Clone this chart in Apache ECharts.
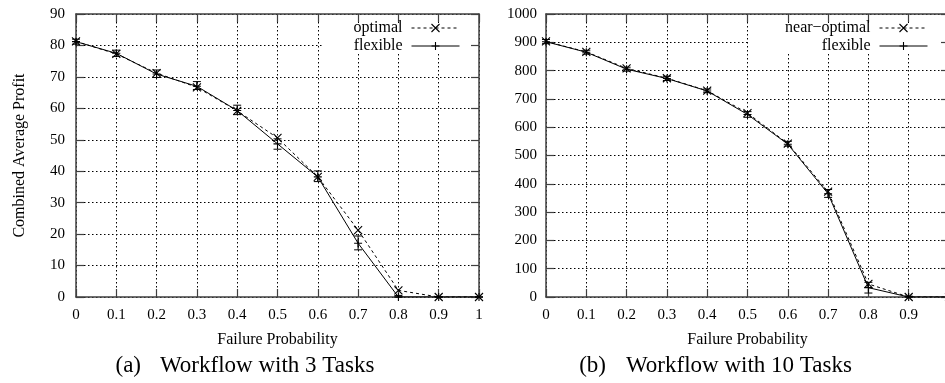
<!DOCTYPE html>
<html><head><meta charset="utf-8">
<script src="https://cdn.jsdelivr.net/npm/echarts@6/dist/echarts.min.js"></script>
<style>html,body{margin:0;padding:0;background:#fff}#c{width:945px;height:383px}</style>
</head><body><div id="c"></div>
<script>
// ---- data ----
const failureProb = [0, 0.1, 0.2, 0.3, 0.4, 0.5, 0.6, 0.7, 0.8, 0.9, 1.0];
const xTickLabels = ['0', '0.1', '0.2', '0.3', '0.4', '0.5', '0.6', '0.7', '0.8', '0.9', '1'];

// (a) Workflow with 3 Tasks
const optimal3 = [81.3, 77.3, 71.2, 66.7, 59.2, 50.6, 38.2, 21.3, 2.1, 0, 0];
const flexible3 = [81.2, 77.5, 70.9, 67.0, 59.3, 48.7, 38.2, 17.1, 0, 0, 0];
const flexible3Low = [80.4, 76.5, 69.8, 66.0, 58.0, 47.0, 36.7, 15.0, 0, 0, 0];
const flexible3High = [82.0, 78.5, 72.2, 68.5, 61.0, 50.3, 40.1, 19.4, 0.5, 0, 0];

// (b) Workflow with 10 Tasks
const nearOptimal10 = [903, 866, 808, 773, 729, 650, 542, 372, 46, 0, 0];
const flexible10 = [902, 865, 805, 772, 728, 645, 540, 365, 33, 0, 0];
const flexible10Low = [895, 858, 798, 765, 722, 635, 533, 352, 14, 0, 0];
const flexible10High = [910, 872, 812, 780, 735, 655, 550, 380, 52, 3, 0];

const yTicks3 = {min: 0, max: 90, interval: 10};
const yTicks10 = {min: 0, max: 1000, interval: 100};

// ---- chart ----
const FONT = 'Liberation Serif';
const AX = '#404040';
const X_PATH = 'path://M0,0L10,10M10,0L0,10';
const PLUS_PATH = 'path://M5,0L5,10M0,5L10,5';

function pairs(xs, ys) { return xs.map((x, i) => [x, ys[i]]); }
function triples(xs, lo, hi) { return xs.map((x, i) => [x, lo[i], hi[i]]); }

function errorBars(params, api) {
  const x = api.value(0), lo = api.value(1), hi = api.value(2);
  const p1 = api.coord([x, lo]), p2 = api.coord([x, hi]);
  const w = 4;
  const st = {stroke: '#000', lineWidth: 1};
  return {type: 'group', children: [
    {type: 'line', shape: {x1: p1[0], y1: p1[1], x2: p2[0], y2: p2[1]}, style: st},
    {type: 'line', shape: {x1: p1[0] - w, y1: p1[1], x2: p1[0] + w, y2: p1[1]}, style: st},
    {type: 'line', shape: {x1: p2[0] - w, y1: p2[1], x2: p2[0] + w, y2: p2[1]}, style: st}
  ]};
}

const grids = [
  {left: 76, top: 14, width: 403, height: 283, outerBoundsMode: 'none', containLabel: false},
  {left: 546, top: 14, width: 403, height: 283, outerBoundsMode: 'none', containLabel: false}
];

function xAxes(gi) {
  const common = {gridIndex: gi, type: 'value', min: 0, max: 1, interval: 0.1,
    axisLine: {show: true, onZero: false, lineStyle: {color: AX, width: 1.5}},
    axisTick: {show: true, inside: true, length: 8, lineStyle: {color: AX, width: 1.2}}};
  return [
    Object.assign({}, common, {position: 'bottom',
      axisLabel: {margin: 11, color: '#000', fontFamily: FONT, fontSize: 15,
        formatter: v => xTickLabels[Math.round(v * 10)]},
      splitLine: {show: true, lineStyle: {type: [1.5, 2.5], color: '#000', width: 1}},
      name: 'Failure Probability', nameLocation: 'middle', nameGap: 35,
      nameTextStyle: {fontFamily: FONT, fontSize: 16, color: '#000'}}),
    Object.assign({}, common, {position: 'top', axisLabel: {show: false}, splitLine: {show: false}})
  ];
}
function yAxes(gi, t, withName, margin) {
  const common = {gridIndex: gi, type: 'value', min: t.min, max: t.max, interval: t.interval,
    axisLine: {show: true, onZero: false, lineStyle: {color: AX, width: 1.5}},
    axisTick: {show: true, inside: true, length: 8, lineStyle: {color: AX, width: 1.2}}};
  const left = Object.assign({}, common, {position: 'left',
    axisLabel: {margin: margin, color: '#000', fontFamily: FONT, fontSize: 15, formatter: v => String(v)},
    splitLine: {show: true, lineStyle: {type: [1.5, 2.5], color: '#000', width: 1}}});
  if (withName) Object.assign(left, {name: 'Combined Average Profit', nameLocation: 'middle', nameGap: 48,
    nameTextStyle: {fontFamily: FONT, fontSize: 16, color: '#000'}});
  return [left, Object.assign({}, common, {position: 'right', axisLabel: {show: false}, splitLine: {show: false}})];
}

function lineSeries(name, xi, yi, data, dashed, sym) {
  return {name: name, type: 'line', xAxisIndex: xi, yAxisIndex: yi, data: data,
    symbol: sym, symbolSize: 8, showSymbol: true, z: 3,
    lineStyle: {color: '#000', width: 1, type: dashed ? [3, 3] : 'solid'},
    itemStyle: {color: '#000', borderColor: '#000', borderWidth: 1.1},
    emphasis: {disabled: true}};
}

function legendOf(names, right) {
  return {data: names, orient: 'vertical', right: right, top: 15, align: 'right',
    itemWidth: 48, itemHeight: 10, itemGap: 2, selectedMode: false,
    formatter: n => n.trim() + ' ',
    lineStyle: {width: 1}, itemStyle: {borderWidth: 1.1},
    textStyle: {fontFamily: FONT, fontSize: 16, color: '#000'}};
}

const capFont = '23px "Liberation Serif"';
function capText(x, y, text, align) {
  return {type: 'text', x: x, y: y, style: {text: text, align: align, verticalAlign: 'middle', font: capFont, fill: '#000'}};
}

const option = {
  animation: false,
  backgroundColor: '#fff',
  grid: grids,
  xAxis: xAxes(0).concat(xAxes(1)),
  yAxis: yAxes(0, yTicks3, true, 11).concat(yAxes(1, yTicks10, false, 9)),
  legend: [
    legendOf(['optimal', 'flexible'], 945 - 460 - 5),
    legendOf(['near\u2212optimal', 'flexible '], 945 - 928 - 5)
  ],
  graphic: [
    {type: 'rect', z: 1, shape: {x: 322, y: 23, width: 148, height: 30}, style: {fill: '#fff'}},
    {type: 'rect', z: 1, shape: {x: 749, y: 23, width: 191, height: 30}, style: {fill: '#fff'}},
    capText(141, 366, '(a)', 'right'),
    capText(160, 366, 'Workflow with 3 Tasks', 'left'),
    capText(606, 366, '(b)', 'right'),
    capText(626, 366, 'Workflow with 10 Tasks', 'left')
  ],
  series: [
    lineSeries('optimal', 0, 0, pairs(failureProb, optimal3), true, X_PATH),
    lineSeries('flexible', 0, 0, pairs(failureProb, flexible3), false, PLUS_PATH),
    {type: 'custom', xAxisIndex: 0, yAxisIndex: 0, renderItem: errorBars, z: 3,
      data: triples(failureProb, flexible3Low, flexible3High)},
    lineSeries('near\u2212optimal', 2, 2, pairs(failureProb, nearOptimal10), true, X_PATH),
    lineSeries('flexible ', 2, 2, pairs(failureProb, flexible10), false, PLUS_PATH),
    {type: 'custom', xAxisIndex: 2, yAxisIndex: 2, renderItem: errorBars, z: 3,
      data: triples(failureProb, flexible10Low, flexible10High)}
  ]
};
const chart = echarts.init(document.getElementById('c'), null, {renderer: 'canvas'});
chart.setOption(option);
</script>
</body></html>
